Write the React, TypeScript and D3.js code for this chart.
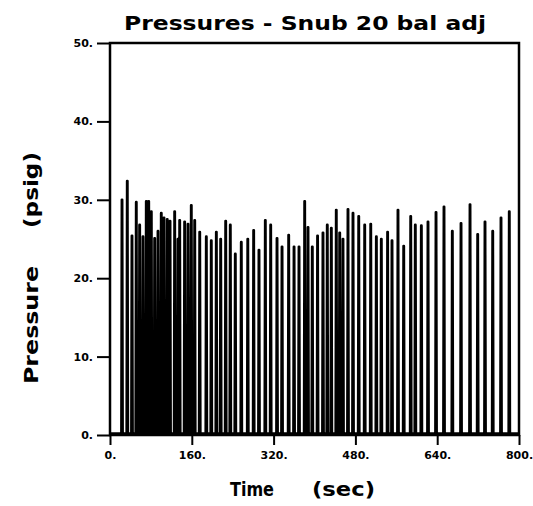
import { useEffect, useRef } from 'react';
import * as d3 from 'd3';

const title = 'Pressures - Snub 20 bal adj';
const xTicks = [0, 160, 320, 480, 640, 800];
const yTicks = [0, 10, 20, 30, 40, 50];
const baseline = 0.2;

// pressure pulses: time (sec) and peak (psig)
const spikeTimes = [
  23.5, 33.8, 43, 51.4, 58, 64.5, 71, 75.7, 80.8, 87.4, 93.9, 100.3, 105.6, 112, 117.4,
  126.5, 133, 136.3, 146, 152.6, 159, 165.7, 175.5, 188.4, 198.1, 208, 216.5, 226.3,
  235.3, 245.1, 256.8, 269.5, 281, 291.4, 303.8, 314.3, 326.7, 336.5, 349.5, 360,
  369.7, 380.8, 387.3, 395.7, 406, 416.6, 425, 432.9, 442.6, 449.3, 455.7, 465.5,
  475.3, 486.5, 498.2, 510, 521, 530.7, 543, 551.6, 563.3, 574.5, 588.2, 597.2, 609,
  622, 637.7, 653.3, 669.6, 686.6, 704.2, 719.2, 733.5, 748.6, 764.8, 781,
];
const spikePeaks = [
  30.0, 32.4, 25.4, 29.7, 26.8, 25.3, 29.8, 29.8, 28.5, 25.1, 26.0, 28.3, 27.7, 27.5, 27.3,
  28.5, 25.0, 27.4, 27.2, 26.9, 29.3, 27.4, 25.9, 25.3, 24.8, 25.9, 25.0, 27.3,
  26.8, 23.1, 24.6, 25.0, 26.1, 23.6, 27.4, 26.8, 25.1, 24.0, 25.5, 24.0,
  24.0, 29.8, 26.5, 24.0, 25.4, 25.8, 26.8, 26.4, 28.7, 25.8, 25.0, 28.8,
  28.3, 27.9, 26.8, 26.9, 25.3, 25.0, 25.9, 24.8, 28.7, 24.1, 27.9, 26.8, 26.7,
  27.2, 28.4, 29.1, 26.0, 27.0, 29.4, 25.6, 27.2, 26.0, 27.7, 28.5,
];

const width = 533;
const height = 506;
const marginLeft = 110;
const marginRight = 14;
const marginTop = 43;
const marginBottom = 71;
const font = '"DejaVu Sans", sans-serif';

const App = () => {
  const svgRef = useRef<SVGSVGElement | null>(null);

  useEffect(() => {
    const svgElement = svgRef.current;
    if (!svgElement) return;
    const svg = d3.select(svgElement);
    svg.selectAll('*').remove();

    const x = d3.scaleLinear().domain([0, 800]).range([marginLeft, width - marginRight]);
    const y = d3.scaleLinear().domain([0, 50]).range([height - marginBottom, marginTop]);

    svg.append('rect').attr('width', width).attr('height', height).attr('fill', '#fff');

    // trace: baseline with a narrow pulse at each spike
    const pts: [number, number][] = [[0, baseline]];
    spikeTimes.forEach((t, i) => {
      pts.push([t - 1.2, baseline], [t - 0.3, spikePeaks[i]], [t + 0.3, spikePeaks[i]], [t + 1.2, baseline]);
    });
    pts.push([800, baseline]);

    const line = d3.line<[number, number]>()
      .x(d => x(d[0]))
      .y(d => y(d[1]));

    svg.append('path')
      .datum(pts)
      .attr('fill', 'none')
      .attr('stroke', '#000')
      .attr('stroke-width', 2.6)
      .attr('stroke-linejoin', 'round')
      .attr('d', line);

    // frame
    svg.append('rect')
      .attr('x', x(0))
      .attr('y', y(50))
      .attr('width', x(800) - x(0))
      .attr('height', y(0) - y(50))
      .attr('fill', 'none')
      .attr('stroke', '#000')
      .attr('stroke-width', 2.5);

    const gx = svg.append('g')
      .attr('transform', `translate(0,${y(0)})`)
      .call(d3.axisBottom(x).tickValues(xTicks).tickSize(10).tickPadding(6).tickFormat(d => `${d}.`));
    const gy = svg.append('g')
      .attr('transform', `translate(${x(0)},0)`)
      .call(d3.axisLeft(y).tickValues(yTicks).tickSize(13).tickPadding(4).tickFormat(d => `${d}.`));

    [gx, gy].forEach(g => {
      g.select('.domain').remove();
      g.selectAll('line').attr('stroke', '#000').attr('stroke-width', 2);
      g.selectAll('text')
        .attr('fill', '#000')
        .style('font-family', font)
        .style('font-weight', 'bold')
        .style('font-size', '11px');
    });

    svg.append('text')
      .attr('x', 124)
      .attr('y', 30)
      .attr('textLength', 362)
      .attr('lengthAdjust', 'spacingAndGlyphs')
      .style('font-family', font)
      .style('font-weight', 'bold')
      .style('font-size', '19px')
      .text(title);

    svg.append('text')
      .attr('x', 230)
      .attr('y', 496)
      .attr('textLength', 44)
      .attr('lengthAdjust', 'spacingAndGlyphs')
      .style('font-family', font)
      .style('font-weight', 'bold')
      .style('font-size', '19px')
      .text('Time');
    svg.append('text')
      .attr('x', 312)
      .attr('y', 496)
      .attr('textLength', 63)
      .attr('lengthAdjust', 'spacingAndGlyphs')
      .style('font-family', font)
      .style('font-weight', 'bold')
      .style('font-size', '19px')
      .text('(sec)');

    const yl = svg.append('g').attr('transform', 'translate(38,0) rotate(-90)');
    yl.append('text')
      .attr('x', -384)
      .attr('y', 0)
      .attr('textLength', 118)
      .attr('lengthAdjust', 'spacingAndGlyphs')
      .style('font-family', font)
      .style('font-weight', 'bold')
      .style('font-size', '19px')
      .text('Pressure');
    yl.append('text')
      .attr('x', -228)
      .attr('y', 0)
      .attr('textLength', 76)
      .attr('lengthAdjust', 'spacingAndGlyphs')
      .style('font-family', font)
      .style('font-weight', 'bold')
      .style('font-size', '19px')
      .text('(psig)');
  }, []);

  return (
    <svg
      ref={svgRef}
      width={width}
      height={height}
      style={{ position: 'absolute', left: 0, top: 0, display: 'block' }}
    />
  );
};

export default App;
